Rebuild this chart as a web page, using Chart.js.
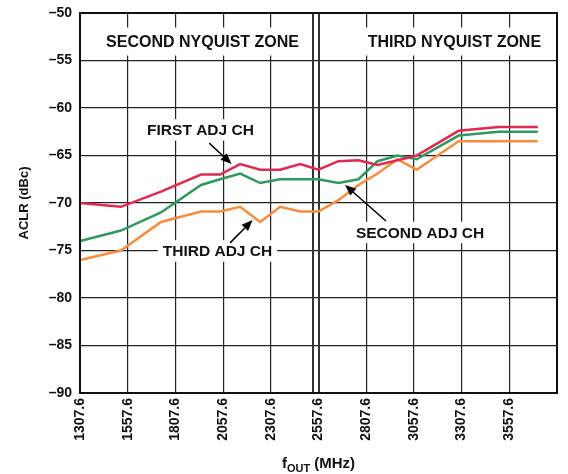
<!DOCTYPE html>
<html lang="en">
<head>
    <meta charset="UTF-8">
    <title>ACLR vs fOUT</title>
    <script src="https://cdn.jsdelivr.net/npm/chart.js@4.4.2/dist/chart.umd.min.js"></script>
    <style>
        body { margin: 0; background: #fff; }
        #wrap { width: 568px; height: 474px; }
    </style>
</head>
<body>
<div id="wrap"><canvas id="aclrChart" width="568" height="474"></canvas></div>
<script>
    // Data
    const freqMHz = [1307.6, 1522, 1732, 1942, 2042, 2147, 2252, 2357, 2462, 2557, 2662, 2767, 2867, 2972, 3072, 3292, 3502, 3707];
    const firstAdj = [-70.0, -70.4, -68.8, -67.0, -67.0, -65.9, -66.5, -66.5, -65.9, -66.5, -65.6, -65.5, -66.0, -65.5, -65.0, -62.4, -62.0, -62.0];
    const secondAdj = [-74.0, -72.9, -71.0, -68.1, -67.5, -66.9, -67.9, -67.5, -67.5, -67.5, -67.9, -67.5, -65.6, -65.0, -65.4, -62.9, -62.5, -62.5];
    const thirdAdj = [-76.0, -75.0, -72.0, -70.9, -70.9, -70.4, -72.0, -70.4, -70.9, -70.9, -69.7, -68.1, -66.9, -65.4, -66.5, -63.5, -63.5, -63.5];

    const xTicks = [1307.6, 1557.6, 1807.6, 2057.6, 2307.6, 2557.6, 2807.6, 3057.6, 3307.6, 3557.6, 3807.6];
    const yTicks = [-90, -85, -80, -75, -70, -65, -60, -55, -50];
    const zoneEdgeMHz = 2530;

    // zone labels in data units: [text, x MHz, y dBc]
    const zoneLabels = [
        ['SECOND NYQUIST ZONE', 1950, -53.0],
        ['THIRD NYQUIST ZONE', 3270, -53.0]
    ];
    // [text, label x, label y, arrow from x, from y, arrow to x, to y]
    const callouts = [
        ['FIRST ADJ CH', 1939, -62.3, 1985, -63.7, 2102, -65.9],
        ['THIRD ADJ CH', 2028, -75.05, 2094, -74.2, 2212, -71.8],
        ['SECOND ADJ CH', 3090, -73.1, 2911, -71.9, 2697, -68.1]
    ];

    const FONT = '"Liberation Sans", Arial, sans-serif';

    function toXY(arr) {
        return freqMHz.map((f, i) => ({ x: f, y: arr[i] }));
    }

    function labelBox(ctx, text, cx, cy, size, padX, padY) {
        ctx.font = 'bold ' + size + 'px ' + FONT;
        const w = ctx.measureText(text).width;
        ctx.fillStyle = '#fff';
        ctx.fillRect(cx - w / 2 - padX, cy - size / 2 - padY, w + padX * 2, size + padY * 2);
        ctx.fillStyle = '#111';
        ctx.textAlign = 'center';
        ctx.textBaseline = 'middle';
        ctx.fillText(text, cx, cy + 1);
    }

    function arrow(ctx, x1, y1, x2, y2) {
        const ang = Math.atan2(y2 - y1, x2 - x1);
        const hl = 11, hw = 4.5;
        const bx = x2 - hl * Math.cos(ang), by = y2 - hl * Math.sin(ang);
        ctx.strokeStyle = '#000';
        ctx.lineWidth = 1.5;
        ctx.beginPath();
        ctx.moveTo(x1, y1);
        ctx.lineTo(bx, by);
        ctx.stroke();
        ctx.fillStyle = '#000';
        ctx.beginPath();
        ctx.moveTo(x2, y2);
        ctx.lineTo(bx + hw * Math.sin(ang), by - hw * Math.cos(ang));
        ctx.lineTo(bx - hw * Math.sin(ang), by + hw * Math.cos(ang));
        ctx.closePath();
        ctx.fill();
    }

    const decorations = {
        id: 'decorations',
        beforeDatasetsDraw(chart) {
            const ctx = chart.ctx;
            const xs = chart.scales.x, ys = chart.scales.y;
            const a = chart.chartArea;
            ctx.save();
            // zone boundary: double line
            ctx.strokeStyle = '#333';
            ctx.lineWidth = 2;
            [zoneEdgeMHz, 2557.6].forEach(v => {
                const px = Math.round(xs.getPixelForValue(v));
                ctx.beginPath();
                ctx.moveTo(px, a.top);
                ctx.lineTo(px, a.bottom);
                ctx.stroke();
            });
            zoneLabels.forEach(z => {
                labelBox(ctx, z[0], xs.getPixelForValue(z[1]), ys.getPixelForValue(z[2]), 16, 6, 6);
            });
            ctx.restore();
        },
        afterDatasetsDraw(chart) {
            const ctx = chart.ctx;
            const xs = chart.scales.x, ys = chart.scales.y;
            const a = chart.chartArea;
            ctx.save();
            callouts.forEach(c => {
                labelBox(ctx, c[0], xs.getPixelForValue(c[1]), ys.getPixelForValue(c[2]), 15.5, 5, 3);
                arrow(ctx, xs.getPixelForValue(c[3]), ys.getPixelForValue(c[4]),
                    xs.getPixelForValue(c[5]), ys.getPixelForValue(c[6]));
            });
            // plot frame
            ctx.strokeStyle = '#111';
            ctx.lineWidth = 2;
            ctx.strokeRect(a.left, a.top, a.right - a.left, a.bottom - a.top);
            // x axis title with subscript
            const cx = (a.left + a.right) / 2;
            const ty = 468;
            ctx.fillStyle = '#111';
            ctx.textBaseline = 'alphabetic';
            ctx.textAlign = 'left';
            const big = 'bold 15px ' + FONT, small = 'bold 11px ' + FONT;
            ctx.font = big;
            const wF = ctx.measureText('f').width;
            const wRest = ctx.measureText(' (MHz)').width;
            ctx.font = small;
            const wSub = ctx.measureText('OUT').width;
            const x0 = cx - (wF + wSub + wRest) / 2;
            ctx.font = big;
            ctx.fillText('f', x0, ty);
            ctx.font = small;
            ctx.fillText('OUT', x0 + wF, ty + 4);
            ctx.font = big;
            ctx.fillText(' (MHz)', x0 + wF + wSub, ty);
            ctx.restore();
        }
    };

    const ctx = document.getElementById('aclrChart').getContext('2d');
    new Chart(ctx, {
        type: 'line',
        data: {
            datasets: [
                { label: 'FIRST ADJ CH', data: toXY(firstAdj), borderColor: '#e2294f' },
                { label: 'SECOND ADJ CH', data: toXY(secondAdj), borderColor: '#2e9a5f' },
                { label: 'THIRD ADJ CH', data: toXY(thirdAdj), borderColor: '#f98b3d' }
            ]
        },
        options: {
            responsive: false,
            animation: false,
            layout: { padding: { top: 13, right: 11, left: 0, bottom: 0 } },
            elements: {
                line: { borderWidth: 2.5, tension: 0, fill: false },
                point: { radius: 0 }
            },
            plugins: {
                legend: { display: false },
                tooltip: { enabled: false }
            },
            scales: {
                x: {
                    type: 'linear',
                    min: 1307.6,
                    max: 3807.6,
                    afterBuildTicks: s => { s.ticks = xTicks.map(v => ({ value: v })); },
                    afterFit: s => { s.height = 81; s.paddingLeft = 0; s.paddingRight = 0; },
                    grid: { color: '#222', lineWidth: 1.2, drawTicks: false },
                    border: { color: '#111', width: 2 },
                    ticks: {
                        autoSkip: false,
                        minRotation: 90,
                        maxRotation: 90,
                        padding: 5,
                        color: '#111',
                        font: { family: FONT, size: 14, weight: 'bold' },
                        callback: (v, i) => i === xTicks.length - 1 ? '' : Number(v).toFixed(1)
                    }
                },
                y: {
                    min: -90,
                    max: -50,
                    afterBuildTicks: s => { s.ticks = yTicks.map(v => ({ value: v })); },
                    afterFit: s => { s.width = 80; s.paddingTop = 0; s.paddingBottom = 0; },
                    grid: { color: '#222', lineWidth: 1.2, drawTicks: false },
                    border: { color: '#111', width: 2 },
                    ticks: {
                        padding: 8,
                        color: '#111',
                        font: { family: FONT, size: 14, weight: 'bold' },
                        callback: v => '\u2013' + Math.abs(v)
                    },
                    title: {
                        display: true,
                        text: 'ACLR (dBc)',
                        color: '#111',
                        padding: { top: 17, bottom: 0 },
                        font: { family: FONT, size: 13, weight: 'bold' }
                    }
                }
            }
        },
        plugins: [decorations]
    });
</script>
</body>
</html>
